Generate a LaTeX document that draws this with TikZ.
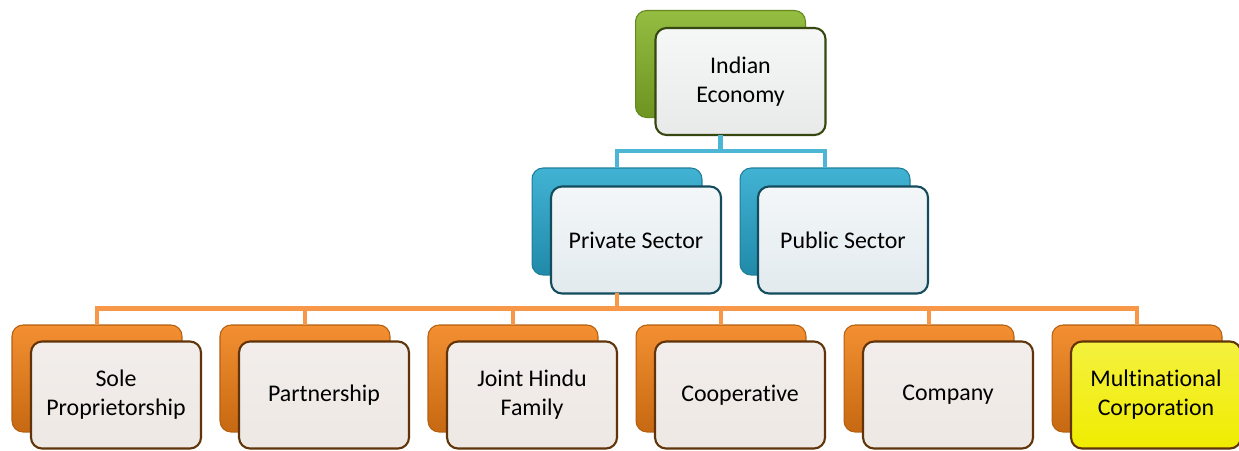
\documentclass[tikz,border=0pt]{standalone}
\usepackage{fontspec}
\setmainfont[Ligatures=NoCommon]{Carlito}
\usetikzlibrary{positioning,calc}

\definecolor{leafgreen}{RGB}{134,180,40}
\definecolor{seablue}{RGB}{40,168,206}
\definecolor{tangerine}{RGB}{242,128,22}
\definecolor{bluelink}{RGB}{76,182,212}
\definecolor{orangelink}{RGB}{246,152,72}
\definecolor{mncyellow}{RGB}{240,236,0}
\definecolor{palegrey}{RGB}{232,234,234}
\definecolor{paleblue}{RGB}{226,234,238}
\definecolor{paleorange}{RGB}{238,232,228}

\begin{document}
\begin{tikzpicture}[x=0.02cm, y=-0.02cm,
    box/.style={rounded corners=0.22cm, minimum width=3.4cm, minimum height=2.14cm,
        inner sep=2pt, outer sep=0pt, align=center},
    back/.style={box, draw=#1!75!black, line width=0.6pt,
        top color=#1!88!white, middle color=#1, bottom color=#1!82!black},
    front/.style={box, draw=#1, line width=1.2pt,
        font=\fontsize{13.6}{16.5}\selectfont},
    link/.style={line width=2.4pt, #1}]

    \useasboundingbox (0,0) rectangle (1239,450);

    % top of the tree
    \node[back=leafgreen] (eco-back) at (720.5,64) {};
    \node[front=leafgreen!40!black, top color=palegrey!40!white, bottom color=palegrey] (eco) at (740.5,81.5) {Indian\\Economy};

    % the two sectors
    \node[back=seablue] (priv-back) at (617,221.5) {};
    \node[front=seablue!45!black, top color=paleblue!40!white, bottom color=paleblue] (priv) at (636,240) {Private Sector};
    \node[back=seablue] (pub-back) at (825,221.5) {};
    \node[front=seablue!45!black, top color=paleblue!40!white, bottom color=paleblue] (pub) at (843,240) {Public Sector};

    % forms of private business
    \foreach \name/\txt/\fc [count=\i from 0] in {
        sole/{Sole\\Proprietorship}/paleorange,
        part/Partnership/paleorange,
        jhf/{Joint Hindu\\Family}/paleorange,
        coop/Cooperative/paleorange,
        comp/Company/paleorange,
        mnc/{Multinational\\Corporation}/mncyellow} {
        \node[back=tangerine] (\name-back) at (97+208*\i,378.5) {};
        \node[front=tangerine!40!black, top color=\fc!75!white, bottom color=\fc] (\name) at (116+208*\i,395) {\txt};
    }

    \draw[link=bluelink] (eco-back |- eco.south) -- ++(0,16) coordinate (hub1);
    \draw[link=bluelink] (hub1) -| (priv-back.north);
    \draw[link=bluelink] (hub1) -| (pub-back.north);

    \draw[link=orangelink] (priv-back |- priv.south) -- ++(0,15) coordinate (hub2);
    \foreach \name in {sole,part,jhf,coop,comp,mnc}
        \draw[link=orangelink] (hub2) -| (\name-back.north);

\end{tikzpicture}
\end{document}
